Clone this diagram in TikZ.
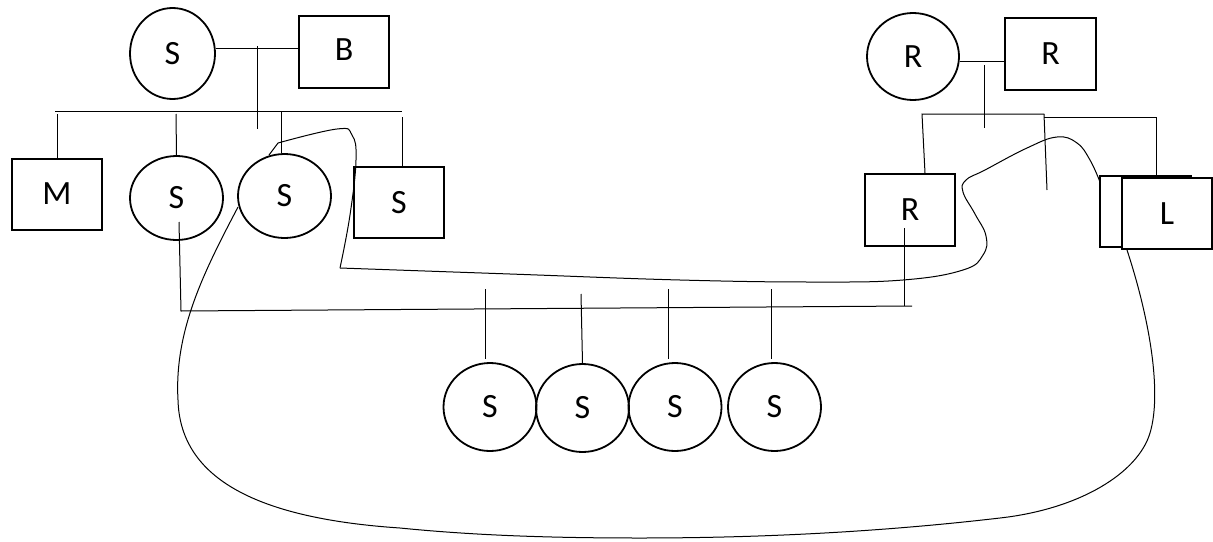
\documentclass[tikz,border=0pt]{standalone}
\usepackage{fontspec}
\setmainfont{Carlito}
\usetikzlibrary{shapes.geometric}
\begin{document}
\begin{tikzpicture}[x=1pt,y=-1pt,
  fig/.style={draw, line width=1.8pt, inner sep=0pt, font=\fontsize{34}{36}\selectfont},
  femc/.style={fig, ellipse},
  malebox/.style={fig, rectangle, minimum width=90pt, minimum height=71pt},
  kid/.style={femc, minimum width=93pt, minimum height=88pt},
  link/.style={line width=1pt},
  curve/.style={line width=1pt, smooth, tension=0.7}]
\fill[white] (0,0) rectangle (1213,541);
\useasboundingbox (0,0) rectangle (1213,541);

% left family
\node[femc, minimum width=85pt, minimum height=91pt] (sTop) at (172.5,53.5) {S};
\node[malebox, minimum height=72pt] (bTop) at (344,52) {\raisebox{4pt}{B}};
\node[malebox] (mBox) at (57,194.5) {\raisebox{2pt}{M}};
\node[femc, minimum width=93pt, minimum height=84pt] (sC2) at (176.5,198) {S};
\node[femc, minimum width=93pt, minimum height=84pt] (sC3) at (284.5,196) {S};
\node[malebox] (sBox) at (399,202.5) {S};

% right family
\node[femc, minimum width=92pt, minimum height=87pt] (rCirc) at (913,56.5) {R};
\node[malebox, minimum width=91pt, minimum height=72pt] (rBox) at (1050.5,54) {R};
\node[malebox, minimum height=72pt] (rBox2) at (910,210) {R};
\node[malebox, minimum width=91pt] (lBack) at (1145.5,211.5) {};
\node[malebox, fill=white] (lFront) at (1167,213.5) {L};

% children
\node[kid] (k1) at (490,407) {S};
\node[kid] (k2) at (582.5,408) {S};
\node[kid] (k3) at (675,407) {S};
\node[kid] (k4) at (774.5,407) {S};

% left family lines
\draw[link] (sTop.east |- 0,48) -- (bTop.west |- 0,48);
\draw[link] (257,46) -- (257,129);
\draw[link] (55,111) -- (402,111);
\draw[link] (57,114) -- (mBox.north);
\draw[link] (176,114) -- (sC2.north);
\draw[link] (281,111) -- (sC3.north -| 281,0);
\draw[link] (402,117) -- (sBox.north -| 402,0);

% right family lines
\draw[link] (rCirc.east |- 0,61) -- (rBox.west |- 0,61);
\draw[link] (984,65) -- (984,128);
\draw[link] (rBox2.north -| 925,0) -- (922,114) -- (1044,114);
\draw[link] (1044,117) -- (1156,117) -- (lBack.north -| 1156,0);
\draw[link] (1044,114) -- (1047,190);

% lower generation
\draw[link] (179,222) -- (181,311) -- (912,306);
\draw[link] (904,228) -- (904,306);
\draw[link] (485,289) -- (485,359);
\draw[link] (581,294) -- (k2.north);
\draw[link] (668,289) -- (668,359);
\draw[link] (771,289) -- (771,359);

% curve A
\draw[link] (269,155) -- (278,143);
\draw[curve] plot coordinates {(278,143) (337,129) (352,135) (356,160) (350,215) (340,268)};
\draw[curve] plot coordinates {(340,268) (510,274) (680,280) (813,282) (903,280) (963,270) (983,255) (986,236) (975,214) (963,192) (966,180) (985,170) (1027,148) (1057,137) (1077,143) (1090,160) (1100,182)};

% curve B
\draw[link] (238,207) .. controls (205,270) and (174,330) .. (178,400)
  .. controls (180,475) and (250,518) .. (400,528)
  .. controls (480,536) and (560,538) .. (640,538)
  .. controls (760,538) and (880,532) .. (1000,518)
  .. controls (1080,509) and (1138,473) .. (1150,433)
  .. controls (1162,393) and (1150,320) .. (1127,250);
\end{tikzpicture}
\end{document}
